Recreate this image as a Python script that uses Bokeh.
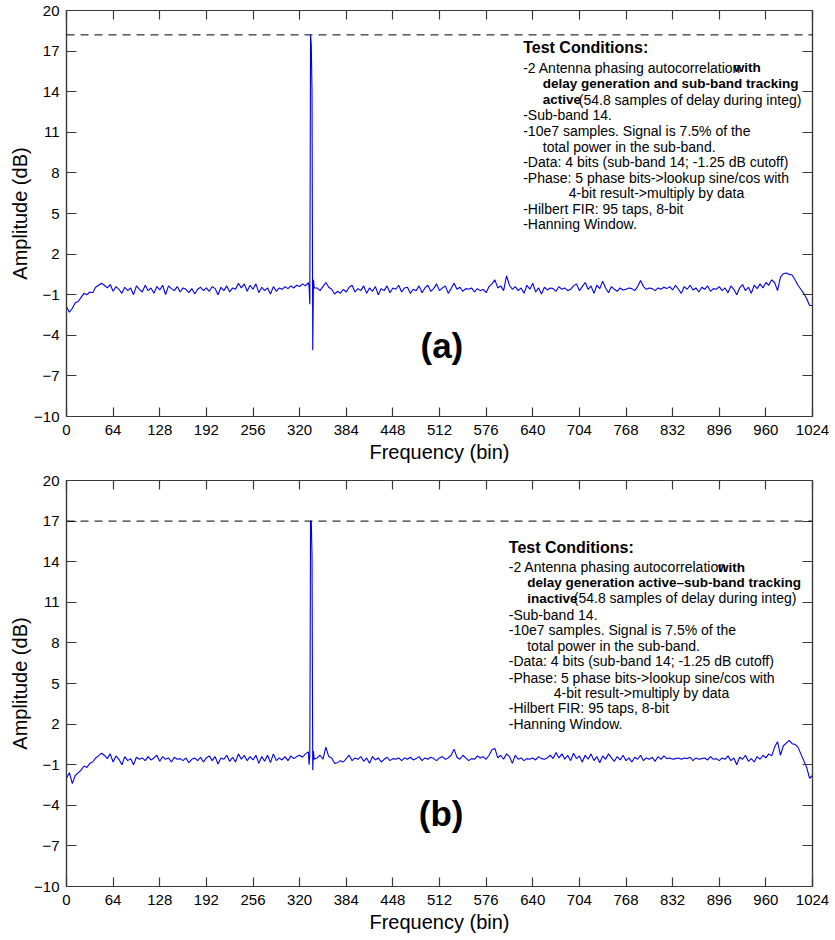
from bokeh.plotting import figure
from bokeh.layouts import column
from bokeh.models import FixedTicker, Span, Label, LinearAxis, Range1d, CustomLabelingPolicy
from bokeh.embed import file_html
from bokeh.resources import INLINE

# ---------------- data ----------------
BIN_STEP = 4
x_ticks = [0, 64, 128, 192, 256, 320, 384, 448, 512, 576, 640, 704, 768, 832, 896, 960, 1024]
y_ticks = [-10, -7, -4, -1, 2, 5, 8, 11, 14, 17, 20]
y_tick_labels = ["\u221210", "\u22127", "\u22124", "\u22121", "2", "5", "8", "11", "14", "17", "20"]

# (a) tracking active: amplitude (dB) every 4 bins, 0..1024
amp_a = [
    -1.9, -2.3, -2.0, -1.6, -1.5, -1.2, -0.9, -1.0,
    -0.8, -0.85, -0.45, -0.3, -0.15, -0.3, -0.5, -0.25,
    -0.75, -0.4, -0.6, -0.9, -0.45, -0.7, -0.5, -1.0,
    -0.35, -0.6, -0.8, -0.3, -0.7, -0.5, -0.9, -0.4,
    -0.65, -0.3, -1.0, -0.35, -0.55, -0.7, -0.4, -0.8,
    -0.5, -0.6, -0.85, -0.55, -0.95, -0.6, -0.45, -0.7,
    -0.5, -0.75, -0.4, -0.55, -1.0, -0.45, -0.7, -0.35,
    -0.8, -0.5, -0.6, -0.15, -0.5, -0.2, -0.75, -0.3,
    -0.6, -0.2, -0.85, -0.45, -0.7, -0.5, -0.95, -0.4,
    -0.75, -0.5, -0.6, -0.4, -0.55, -0.35, -0.5, -0.3,
    -0.4, -0.2, -0.35, -0.1, -0.3, -0.5, -0.5, -0.7,
    -0.4, -0.1, -0.45, -0.6, -0.95, -0.75, -0.9, -0.6,
    -0.8, -0.45, -0.3, -0.8, -0.55, -0.7, -0.35, -0.9,
    -0.5, -0.75, -0.4, -1.0, -0.55, -0.7, -0.35, -0.85,
    -0.5, -0.6, -0.3, -0.8, -0.5, -0.45, -0.9, -0.6,
    -0.7, -0.35, -0.85, -0.5, -0.3, -0.75, -0.55, -0.2,
    -0.7, -0.5, -0.35, -0.9, -0.55, -0.15, -0.6, -0.45,
    -0.75, -0.55, -0.6, -0.5, -0.8, -0.55, -0.7, -0.6,
    -0.85, -0.4, -0.2, 0.1, -0.5, -0.35, -0.7, 0.4,
    -0.3, -0.6, -0.4, -0.7, -0.5, -0.9, -0.3, -0.6,
    -0.15, -0.8, -0.5, -0.95, -0.45, -0.65, -0.5, -0.55,
    -0.75, -0.4, -0.6, -0.5, -0.7, -0.6, -0.35, -0.2,
    -0.7, -0.4, -0.1, -0.6, -0.35, -0.9, -0.3, -0.55,
    0.0, -0.5, -0.85, -0.4, -0.6, -0.75, -0.5, -0.65,
    -0.6, -0.5, -0.55, -0.7, -0.4, 0.05, -0.4, -0.6,
    -0.5, -0.55, -0.7, -0.5, -0.6, -0.45, -0.55, -0.4,
    -0.65, -0.3, -0.6, -0.9, -0.4, -0.6, -0.3, -0.65,
    -0.5, -0.8, -0.45, -0.6, -0.35, -0.75, -0.55, -0.6,
    -0.4, -0.7, -0.5, -0.85, -0.35, -0.6, -1.0, -0.5,
    -0.25, -0.7, -0.45, -0.9, -0.3, -0.55, -0.2, -0.5,
    -0.1, -0.3, 0.1, -0.1, -0.7, 0.3, 0.55, 0.6,
    0.5, 0.45, 0.1, -0.3, -0.6, -0.9, -1.3, -1.8,
    -1.8,
]
# tone region (single bins) for (a)
tone_bins_a = [333, 334, 335, 336, 337, 338, 339, 340]
tone_amp_a = [-0.4, -1.7, 18.2, 17.5, 14.0, -5.1, 0.1, -0.5]

# (b) tracking inactive
amp_b = [
    -2.0, -1.6, -2.4, -1.8, -1.6, -1.4, -1.1, -1.2,
    -0.9, -0.8, -0.5, -0.35, -0.15, -0.3, -0.55, -0.2,
    -0.8, -0.35, -0.6, -1.0, -0.4, -0.7, -0.55, -1.0,
    -0.45, -0.6, -0.5, -0.7, -0.4, -0.65, -0.5, -0.3,
    -0.75, -0.4, -0.6, -0.5, -0.8, -0.45, -0.6, -0.55,
    -0.7, -0.5, -0.85, -0.6, -0.5, -0.7, -0.45, -0.8,
    -0.5, -0.35, -0.7, -0.4, -0.95, -0.5, -0.6, -0.3,
    -0.75, -0.45, -0.8, -0.2, -0.6, -0.3, -0.7, -0.4,
    -0.65, -0.3, -0.9, -0.4, -0.75, -0.3, -0.85, -0.2,
    -0.7, -0.5, -0.65, -0.4, -0.7, -0.35, -0.55, -0.4,
    -0.3, -0.45, -0.2, -0.05, -0.3, -0.5, -0.5, -0.3,
    -0.6, 0.3, -0.4, -0.5, -0.9, -0.85, -0.7, -0.8,
    -0.55, -0.3, -0.7, -0.5, -0.6, -0.4, -0.75, -0.5,
    -0.9, -0.4, -0.65, -0.5, -0.8, -0.6, -0.45, -0.7,
    -0.55, -0.6, -0.5, -0.7, -0.5, -0.6, -0.45, -0.65,
    -0.55, -0.4, -0.7, -0.5, -0.6, -0.45, -0.55, -0.7,
    -0.5, -0.4, -0.6, -0.5, -0.3, 0.15, -0.45, -0.6,
    -0.3, -0.5, -0.7, -0.55, -0.6, -0.35, -0.5, -0.4,
    -0.6, -0.3, 0.1, 0.2, -0.5, -0.3, -0.6, -0.2,
    -0.4, -0.9, -0.3, -0.6, -0.5, -0.7, -0.55, -0.6,
    -0.5, -0.65, -0.4, -0.55, -0.6, -0.5, -0.3, -0.55,
    -0.1, -0.5, -0.2, -0.6, -0.3, -0.7, -0.15, -0.55,
    -0.35, -0.8, -0.3, -0.6, -0.2, -0.7, -0.4, -0.85,
    -0.35, -0.6, -0.2, -0.5, -0.75, -0.4, -0.65, -0.3,
    -0.7, -0.5, -0.8, -0.45, -0.6, -0.3, -0.7, -0.5,
    -0.6, -0.45, -0.75, -0.4, -0.6, -0.35, -0.55, -0.5,
    -0.6, -0.55, -0.5, -0.6, -0.5, -0.55, -0.45, -0.7,
    -0.5, -0.6, -0.55, -0.5, -0.65, -0.4, -0.6, -0.55,
    -0.7, -0.5, -0.6, -0.35, -0.7, -0.5, -1.0, -0.45,
    -0.6, -0.3, -0.75, -0.55, -0.8, -0.4, -0.6, -0.3,
    -0.5, -0.2, -0.35, 0.3, 0.7, -0.3, 0.4, 0.6,
    0.8, 0.55, 0.5, 0.3, -0.2, -0.7, -1.2, -2.0,
    -1.8,
]
tone_bins_b = [333, 334, 335, 336, 337, 338, 339, 340]
tone_amp_b = [-1.0, -0.3, 17.0, 17.0, 14.5, -1.4, 0.0, -0.6]

texts_a = [
    ("Test Conditions:", "head"),
    ("-2 Antenna phasing autocorrelation", "reg"),
    ("with", "bold"),
    ("delay generation and sub-band tracking", "bold"),
    ("active", "bold"),
    ("(54.8 samples of delay during integ)", "reg"),
    ("-Sub-band 14.", "reg"),
    ("-10e7 samples.  Signal is 7.5% of the", "reg"),
    ("total power in the sub-band.", "reg"),
    ("-Data: 4 bits (sub-band 14; -1.25 dB cutoff)", "reg"),
    ("-Phase: 5 phase bits->lookup sine/cos with", "reg"),
    ("4-bit result->multiply by data", "reg"),
    ("-Hilbert FIR: 95 taps, 8-bit", "reg"),
    ("-Hanning Window.", "reg"),
]
texts_b = [
    ("Test Conditions:", "head"),
    ("-2 Antenna phasing autocorrelation", "reg"),
    ("with", "bold"),
    ("delay generation active\u2013sub-band tracking", "bold"),
    ("inactive", "bold"),
    ("(54.8 samples of delay during integ)", "reg"),
    ("-Sub-band 14.", "reg"),
    ("-10e7 samples.  Signal is 7.5% of the", "reg"),
    ("total power in the sub-band.", "reg"),
    ("-Data: 4 bits (sub-band 14; -1.25 dB cutoff)", "reg"),
    ("-Phase: 5 phase bits->lookup sine/cos with", "reg"),
    ("4-bit result->multiply by data", "reg"),
    ("-Hilbert FIR: 95 taps, 8-bit", "reg"),
    ("-Hanning Window.", "reg"),
]

# ---------------- layout (pixel positions of the reference) ----------------
FONT = "Liberation Sans"
FRAME_L, FRAME_W, FRAME_H = 66.0, 746.0, 406.0
AX_COL = "#3a3a3a"

pos_a = [(522.7, 47.3), (522.7, 67.3), (733.3, 67.3), (542.3, 83.3), (542.3, 99.3),
         (578.3, 99.3), (522.7, 114.3), (522.7, 130.5), (542.3, 146.0), (522.7, 161.5),
         (522.7, 177.0), (568.3, 192.5), (522.7, 208.5), (522.7, 223.5)]
pos_b = [(508.3, 547.3), (508.3, 566.7), (717.5, 566.7), (526.7, 581.7), (526.7, 597.7),
         (573.3, 597.7), (508.3, 614.3), (508.3, 629.3), (526.7, 645.0), (508.3, 660.7),
         (508.3, 677.3), (553.3, 692.3), (508.3, 707.7), (508.3, 723.3)]


def merged(amp, tone_bins, tone_amp):
    d = {i * BIN_STEP: v for i, v in enumerate(amp)}
    for b, v in zip(tone_bins, tone_amp):
        d[b] = v
    ks = sorted(d)
    return ks, [d[k] for k in ks]


def make_panel(amp, tone_bins, tone_amp, texts, pos, frame_top_ref, tag, tag_pos,
               height, border_top, border_bottom):
    def bx(px):
        return (px - FRAME_L) / FRAME_W * 1024.0

    def by(py):
        return 20.0 - (py - frame_top_ref) / FRAME_H * 30.0

    p = figure(width=830, height=height, output_backend="svg", toolbar_location=None,
               x_range=Range1d(0, 1024), y_range=Range1d(-10, 20),
               min_border_left=66, min_border_right=18,
               min_border_top=border_top, min_border_bottom=border_bottom,
               x_axis_label="Frequency (bin)", y_axis_label="Amplitude (dB)")
    p.grid.visible = False
    p.outline_line_color = AX_COL
    p.outline_line_width = 1.2
    p.background_fill_color = "white"
    p.border_fill_color = "white"

    # extra axes (top / right) that carry only the inward tick marks
    no_labels = CustomLabelingPolicy(code="for (const i of []) { yield i }")
    top = LinearAxis(major_label_policy=no_labels)
    right = LinearAxis(major_label_policy=no_labels)
    p.add_layout(top, "above")
    p.add_layout(right, "right")

    for ax in p.xaxis:
        ax.ticker = FixedTicker(ticks=x_ticks)
    for ax in p.yaxis:
        ax.ticker = FixedTicker(ticks=y_ticks)
        ax.major_label_overrides = {t: s for t, s in zip(y_ticks, y_tick_labels)}
    for ax in p.axis:
        ax.major_tick_in = 10
        ax.major_tick_out = 0
        ax.minor_tick_line_color = None
        ax.axis_line_color = AX_COL
        ax.axis_line_width = 1.2
        ax.major_tick_line_color = AX_COL
        ax.major_tick_line_width = 1.2
        ax.major_label_text_font = FONT
        ax.major_label_text_font_size = "15px"
        ax.major_label_text_color = "black"
        ax.axis_label_text_font = FONT
        ax.axis_label_text_font_size = "20px"
        ax.axis_label_text_font_style = "normal"
        ax.axis_label_text_color = "black"
    for ax in p.xaxis:
        ax.major_tick_in = 9
    for ax in (top, right):
        ax.major_label_text_font_size = "2px"
        ax.major_label_standoff = 0
    p.below[0].major_label_standoff = 8
    p.below[0].axis_label_standoff = 3
    p.left[0].major_label_standoff = 7
    p.left[0].axis_label_standoff = 0

    bins, vals = merged(amp, tone_bins, tone_amp)
    p.line(bins, vals, line_color="#0000e6", line_width=1.1)

    p.add_layout(Span(location=max(vals), dimension="width", line_color="black",
                      line_width=1, line_dash="8 6"))

    styles = {"head": ("bold", "16px"), "bold": ("bold", "13.5px"), "reg": ("normal", "14px")}
    for (txt, st), (px, py) in zip(texts, pos):
        fs, sz = styles[st]
        p.add_layout(Label(x=bx(px), y=by(py), text=txt, text_font=FONT,
                           text_font_size=sz, text_font_style=fs, text_color="black",
                           text_align="left", text_baseline="middle"))

    p.add_layout(Label(x=bx(tag_pos[0]), y=by(tag_pos[1]), text=tag, text_font=FONT,
                       text_font_size="35px", text_font_style="bold", text_color="black",
                       text_align="left", text_baseline="middle"))
    return p


pa = make_panel(amp_a, tone_bins_a, tone_amp_a, texts_a, pos_a, 10.0, "(a)", (420.0, 345.0),
                height=470, border_top=10, border_bottom=54)
pb = make_panel(amp_b, tone_bins_b, tone_amp_b, texts_b, pos_b, 480.0, "(b)", (418.3, 813.3),
                height=470, border_top=10, border_bottom=54)

layout = column(pa, pb, spacing=0)
open("out.html", "w").write(file_html(layout, INLINE))
